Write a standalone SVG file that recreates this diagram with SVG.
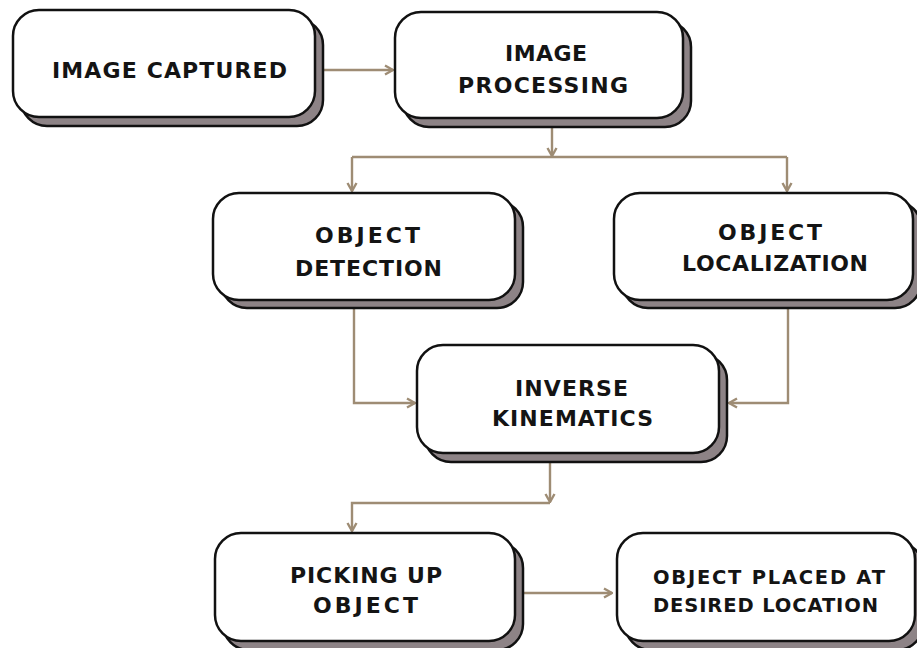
<svg xmlns="http://www.w3.org/2000/svg" width="917" height="648" viewBox="0 0 917 648">
<defs>
<style>
.sh{fill:#8d8386;stroke:#111;stroke-width:2.5}
.bx{fill:#fff;stroke:#111;stroke-width:2.5}
.t{font-family:"DejaVu Sans","Liberation Sans",Arial,sans-serif;font-weight:bold;font-size:22px;fill:#141414}
.ts{font-size:19.5px}
.c{fill:none;stroke:#9e8c74;stroke-width:2.4}
</style>
<marker id="ah" viewBox="0 0 12 12" refX="11" refY="6" markerWidth="12" markerHeight="12" markerUnits="userSpaceOnUse" orient="auto">
<path d="M3,1.5 L11,6 L3,10.5" fill="none" stroke="#9e8c74" stroke-width="2.4"/>
</marker>
</defs>
<rect width="917" height="648" fill="#fff"/>
<g id="connectors">
<path class="c" d="M323,70 H393" marker-end="url(#ah)"/>
<path class="c" d="M552,128 V156" marker-end="url(#ah)"/>
<path class="c" d="M352,157 H787"/>
<path class="c" d="M352,157 V191" marker-end="url(#ah)"/>
<path class="c" d="M787,157 V191" marker-end="url(#ah)"/>
<path class="c" d="M354,309 V403 H415" marker-end="url(#ah)"/>
<path class="c" d="M788,309 V403 H729" marker-end="url(#ah)"/>
<path class="c" d="M550,463 V502" marker-end="url(#ah)"/>
<path class="c" d="M550,503 H352 V531" marker-end="url(#ah)"/>
<path class="c" d="M524,593 H612" marker-end="url(#ah)"/>
</g>
<g id="image-captured">
<rect class="sh" x="21" y="19" width="302" height="107" rx="26"/>
<rect class="bx" x="13" y="10" width="302" height="107" rx="26"/>
<text class="t" x="52" y="78" textLength="235" lengthAdjust="spacing">IMAGE CAPTURED</text>
</g>
<g id="image-processing">
<rect class="sh" x="403" y="21" width="288" height="106" rx="26"/>
<rect class="bx" x="395" y="12" width="288" height="106" rx="26"/>
<text class="t" x="505" y="61" textLength="82" lengthAdjust="spacing">IMAGE</text>
<text class="t" x="458" y="93" textLength="170" lengthAdjust="spacing">PROCESSING</text>
</g>
<g id="object-detection">
<rect class="sh" x="221" y="201" width="302" height="107" rx="26"/>
<rect class="bx" x="213" y="193" width="302" height="107" rx="26"/>
<text class="t" x="315" y="243" textLength="105" lengthAdjust="spacing">OBJECT</text>
<text class="t" x="295" y="276" textLength="147" lengthAdjust="spacing">DETECTION</text>
</g>
<g id="object-localization">
<rect class="sh" x="622" y="201" width="299" height="107" rx="26"/>
<rect class="bx" x="614" y="193" width="299" height="107" rx="26"/>
<text class="t" x="718" y="240" textLength="104" lengthAdjust="spacing">OBJECT</text>
<text class="t" x="682" y="271" textLength="186" lengthAdjust="spacing">LOCALIZATION</text>
</g>
<g id="inverse-kinematics">
<rect class="sh" x="425" y="354" width="302" height="108" rx="26"/>
<rect class="bx" x="417" y="345" width="302" height="108" rx="26"/>
<text class="t" x="515" y="396" textLength="113" lengthAdjust="spacing">INVERSE</text>
<text class="t" x="492" y="426" textLength="161" lengthAdjust="spacing">KINEMATICS</text>
</g>
<g id="picking-up-object">
<rect class="sh" x="223" y="542" width="300" height="108" rx="26"/>
<rect class="bx" x="215" y="533" width="300" height="108" rx="26"/>
<text class="t" x="290" y="583" textLength="152" lengthAdjust="spacing">PICKING UP</text>
<text class="t" x="313" y="613" textLength="105" lengthAdjust="spacing">OBJECT</text>
</g>
<g id="object-placed">
<rect class="sh" x="625" y="542" width="298" height="108" rx="26"/>
<rect class="bx" x="617" y="533" width="298" height="108" rx="26"/>
<text class="t ts" x="653" y="584" textLength="232" lengthAdjust="spacing">OBJECT PLACED AT</text>
<text class="t ts" x="653" y="612" textLength="225" lengthAdjust="spacing">DESIRED LOCATION</text>
</g>
</svg>
